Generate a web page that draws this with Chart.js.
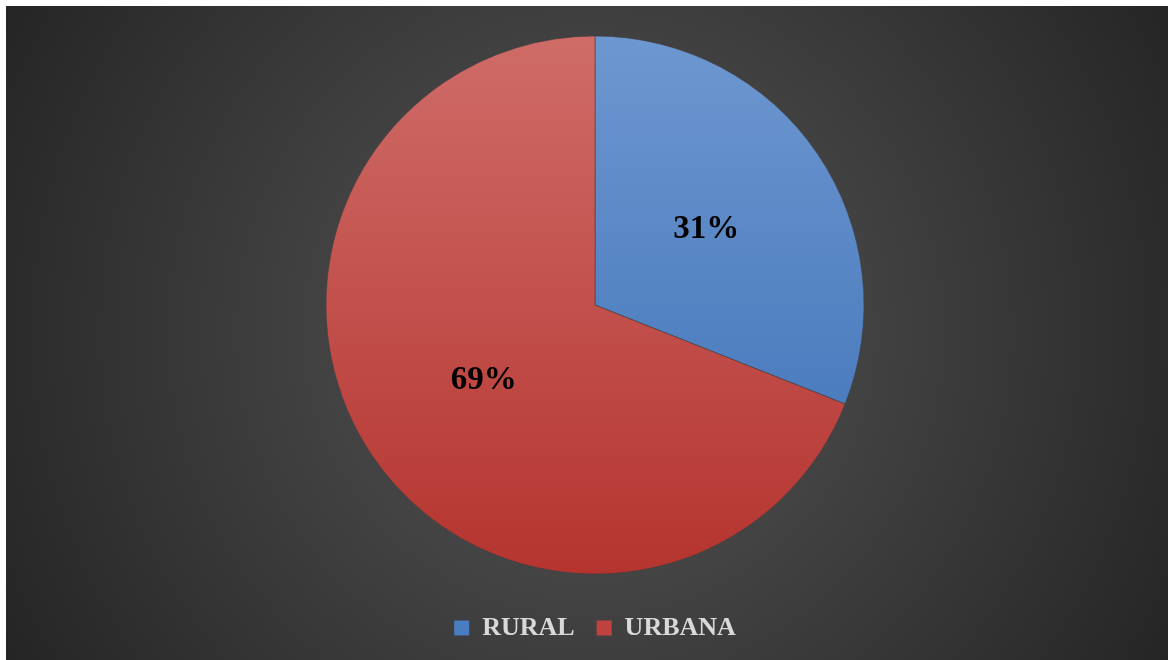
<!DOCTYPE html>
<html>
<head>
<meta charset="utf-8">
<script src="https://cdn.jsdelivr.net/npm/chart.js@4.4.1/dist/chart.umd.min.js"></script>
<style>
  html, body { margin: 0; padding: 0; background: #fff; }
  #wrap { width: 1174px; height: 660px; position: relative; }
</style>
</head>
<body>
<div id="wrap"><canvas id="chart" width="1174" height="660"></canvas></div>
<script>
'use strict';

var categories = ['RURAL', 'URBANA'];
var shares = [31, 69];

// top / bottom shades of each slice
var sliceTop = ['#6d97d0', '#cf6c68'];
var sliceBottom = ['#3c70b6', '#b5342f'];
var legendFill = ['#4a7cc0', '#c0423e'];

var serif = '"Liberation Serif", "DejaVu Serif", serif';
var pieRadius = 269;

function sliceFill(ctx) {
    var chart = ctx.chart;
    var i = ctx.dataIndex;
    if (ctx.type !== 'data' || !chart.chartArea) return legendFill[i];
    var area = chart.chartArea;
    var cy = (area.top + area.bottom) / 2;
    var g = chart.ctx.createLinearGradient(0, cy - pieRadius, 0, cy + pieRadius);
    g.addColorStop(0, sliceTop[i]);
    g.addColorStop(1, sliceBottom[i]);
    return g;
}

// dark radial backdrop inside a thin white frame
var backdrop = {
    id: 'backdrop',
    beforeDraw: function (chart) {
        var c = chart.ctx, w = chart.width, h = chart.height;
        c.save();
        c.fillStyle = '#ffffff';
        c.fillRect(0, 0, w, h);
        var g = c.createRadialGradient(590, 330, 0, 590, 330, 680);
        g.addColorStop(0, '#4b4b4b');
        g.addColorStop(0.3, '#474747');
        g.addColorStop(1, '#242424');
        c.fillStyle = g;
        c.fillRect(6, 6, w - 12, h - 6);
        c.restore();
    }
};

// percentage inside each slice
var sliceLabels = {
    id: 'sliceLabels',
    afterDatasetsDraw: function (chart) {
        var c = chart.ctx;
        var meta = chart.getDatasetMeta(0);
        c.save();
        c.font = 'bold 33px ' + serif;
        c.fillStyle = '#000000';
        c.textAlign = 'center';
        c.textBaseline = 'middle';
        meta.data.forEach(function (arc, i) {
            var p = arc.tooltipPosition();
            c.fillText(shares[i] + '%', p.x, p.y);
        });
        c.restore();
    }
};

new Chart(document.getElementById('chart'), {
    type: 'pie',
    data: {
        labels: categories,
        datasets: [{
            data: shares,
            backgroundColor: sliceFill,
            borderColor: 'rgba(60,60,60,0.55)',
            borderWidth: 1,
            radius: pieRadius
        }]
    },
    options: {
        responsive: false,
        animation: false,
        layout: { padding: { top: 17, bottom: 9, left: 16, right: 0 } },
        plugins: {
            tooltip: { enabled: false },
            legend: {
                position: 'bottom',
                labels: {
                    boxWidth: 15,
                    boxHeight: 15,
                    padding: 22,
                    color: '#d9d9d9',
                    font: { family: serif, size: 26, weight: 'bold' },
                    generateLabels: function (chart) {
                        return categories.map(function (name, i) {
                            return {
                                text: name,
                                fillStyle: legendFill[i],
                                strokeStyle: legendFill[i],
                                lineWidth: 0,
                                fontColor: '#d9d9d9',
                                index: i
                            };
                        });
                    }
                }
            }
        }
    },
    plugins: [backdrop, sliceLabels]
});
</script>
</body>
</html>
